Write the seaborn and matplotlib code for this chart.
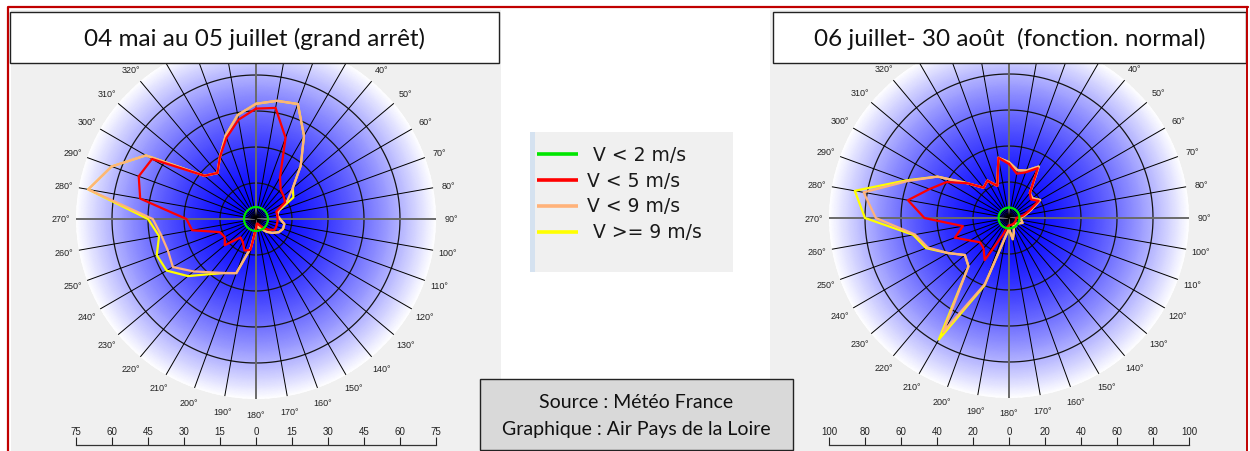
import numpy as np
import matplotlib
matplotlib.use("Agg")
import matplotlib.pyplot as plt
from matplotlib.colors import ListedColormap
from matplotlib.patches import Rectangle
import seaborn as sns

sns.set_style("white")
plt.rcParams["font.family"] = ["DejaVu Sans"]

W, H = 1250, 452

# wind directions (degrees, every 10°)
directions = list(range(0, 360, 10))

# period 1 : cumulative frequencies per speed class
p1_title = "04 mai au 05 juillet (grand arrêt)"
p1_rmax = 75
p1_v2 = [5] * 36
p1_v5 = [46, 47, 36, 20, 16, 15, 14, 9, 9, 9, 9, 9,
         9, 7, 5, 3, 2, 2, 4, 13, 14, 11, 10, 17,
         15, 16, 27, 29, 49, 52, 50, 28, 25, 30, 36, 42]
p1_v9 = [48, 50, 51, 40, 29, 20, 15, 10, 9, 10, 12, 12,
         11, 9, 7, 5, 4, 3, 4, 12, 24, 26, 29, 34,
         40, 39, 40, 43, 71, 64, 53, 28, 25, 30, 37, 44]
p1_vall = [48, 50, 51, 40, 29, 20, 18, 10, 9, 10, 12, 12,
           11, 9, 7, 5, 4, 3, 4, 12, 24, 26, 30, 37,
           43, 44, 41, 45, 71, 64, 53, 28, 25, 30, 37, 44]

# period 2 : cumulative frequencies per speed class
p2_title = "06 juillet- 30 août  (fonction. normal)"
p2_rmax = 100
p2_v2 = [5.8] * 36
p2_v5 = [30, 25, 27, 32, 18, 16, 19, 12, 8, 4, 4, 4,
         4, 4, 4, 4, 4, 4, 4, 5, 10, 27, 22, 21,
         25, 32, 26, 47, 57, 47, 40, 30, 22, 24, 19, 34]
p2_v9 = [31, 27, 28, 33, 18, 17, 20, 13, 9, 6, 7, 8,
         6, 5, 6, 5, 8, 12, 6, 10, 39, 73, 35, 32,
         39, 48, 53, 74, 82, 60, 46, 30, 22, 24, 19, 34]
p2_vall = [31, 27, 28, 33, 18, 17, 20, 13, 9, 6, 7, 8,
           6, 5, 6, 5, 8, 12, 6, 10, 40, 78, 35, 32,
           39, 49, 54, 80, 87, 61, 46, 30, 22, 24, 19, 34]

class_labels = [" V < 2 m/s", "V < 5 m/s", "V < 9 m/s", " V >= 9 m/s"]
class_colors = ["#00e600", "#ff0000", "#ffb27a", "#ffff00"]

source_lines = ["Source : Météo France", "Graphique : Air Pays de la Loire"]

# direction labels hidden behind the title boxes are not drawn
hidden_labels = {330, 340, 350, 0, 10, 20, 30}


def px_rect(x0, y0, x1, y1):
    return [x0 / W, 1 - y1 / H, (x1 - x0) / W, (y1 - y0) / H]


fig = plt.figure(figsize=(W / 100, H / 100), dpi=100)
fig.patch.set_facecolor("white")

# background layer in pixel coordinates
bg = fig.add_axes([0, 0, 1, 1], zorder=-5)
bg.set_xlim(0, W)
bg.set_ylim(H, 0)
bg.axis("off")
bg.add_patch(Rectangle((11, 11), 490, H, facecolor="#f0f0f0", edgecolor="none"))
bg.add_patch(Rectangle((770, 11), 477, H, facecolor="#f0f0f0", edgecolor="none"))

# radial blue -> white shading, staying saturated towards the centre
_t = np.linspace(0, 1, 256) ** 1.6
blue_white = ListedColormap(np.column_stack([_t, _t, np.ones_like(_t)]))


def wind_rose(cx, cy, rmax, series):
    R = 180
    ax = fig.add_axes(px_rect(cx - R, cy - R, cx + R, cy + R), projection="polar", zorder=1)
    ax.set_theta_zero_location("N")
    ax.set_theta_direction(-1)
    ax.patch.set_alpha(0)
    ax.spines["polar"].set_visible(False)
    ax.grid(False)

    th = np.linspace(0, 2 * np.pi, 181)
    rr = np.linspace(0, rmax, 80)
    T, RR = np.meshgrid(th, rr)
    ax.pcolormesh(T, RR, RR, cmap=blue_white, shading="gouraud", vmin=0, vmax=rmax, zorder=0)

    # rings
    step = rmax / 5
    for k in range(1, 5):
        ax.plot(th, np.full_like(th, k * step), color="#141414", lw=0.9, zorder=1)
    # spokes
    for d in range(0, 360, 10):
        t = np.deg2rad(d)
        main = d % 90 == 0
        ax.plot([t, t], [0, rmax], color="#6a6a6a" if main else "#000000",
                lw=1.4 if main else 0.7, zorder=1)
        if d not in hidden_labels:
            ax.text(t, rmax * 195 / 180, f"{d}°", ha="center", va="center",
                    fontsize=6.5, family="Liberation Sans", color="#222222", clip_on=False)

    theta = np.deg2rad(directions + [directions[0]])
    for vals, col in zip(series[::-1], class_colors[::-1]):
        r = np.array(vals + [vals[0]], dtype=float)
        sns.lineplot(x=theta, y=r, ax=ax, sort=False, estimator=None,
                     color=col, lw=1.6, legend=False, zorder=3)
    ax.set_xlabel("")
    ax.set_ylabel("")
    ax.set_xticks([])
    ax.set_yticks([])
    ax.set_ylim(0, rmax)

    # linear scale below the rose
    sax = fig.add_axes(px_rect(cx - R, 446, cx + R, 452), zorder=1)
    sax.patch.set_alpha(0)
    for s in ("left", "right", "bottom"):
        sax.spines[s].set_visible(False)
    sax.spines["top"].set_color("#333333")
    sax.spines["top"].set_linewidth(0.9)
    sax.set_xlim(-rmax, rmax)
    ticks = np.linspace(-rmax, rmax, 11)
    sax.set_xticks(ticks)
    sax.set_xticklabels([f"{abs(int(round(t)))}" for t in ticks], family="Liberation Sans")
    sax.set_yticks([])
    sax.xaxis.tick_top()
    sax.tick_params(axis="x", direction="out", length=5.5, width=0.8, pad=1,
                    labelsize=7, colors="#222222")


wind_rose(256, 220, p1_rmax, [p1_v2, p1_v5, p1_v9, p1_vall])
wind_rose(1009, 219, p2_rmax, [p2_v2, p2_v5, p2_v9, p2_vall])

# legend box
lax = fig.add_axes(px_rect(530, 133, 733, 273), zorder=2)
lax.set_xlim(530, 733)
lax.set_ylim(273, 133)
lax.axis("off")
lax.add_patch(Rectangle((530, 133), 203, 140, facecolor="#f0f0f0", edgecolor="none"))
lax.add_patch(Rectangle((530, 133), 5, 140, facecolor="#d5e2f0", edgecolor="none"))
for y, lab, col in zip([155, 181, 207, 233], class_labels, class_colors):
    lax.plot([537, 578], [y, y], color=col, lw=2.6, solid_capstyle="butt")
    lax.text(587, y, lab, ha="left", va="center", fontsize=13.5, color="#1a1a1a")

# overlay: frame, titles, source
top = fig.add_axes([0, 0, 1, 1], zorder=10)
top.set_xlim(0, W)
top.set_ylim(H, 0)
top.axis("off")
top.plot([8, 8, 1248], [H, 8, 8], color="#c00000", lw=1.6)
top.plot([1247, 1247], [8, H], color="#c00000", lw=1.4)
for (x0, x1), title in zip([(10, 499), (773, 1246)], [p1_title, p2_title]):
    top.add_patch(Rectangle((x0, 13), x1 - x0, 51, facecolor="white", edgecolor="#222222", lw=1))
    top.text((x0 + x1) / 2, 39, title, ha="center", va="center", fontsize=17.5,
             family="Lato", color="#111111")
top.add_patch(Rectangle((480, 380), 313, 71, facecolor="#d9d9d9", edgecolor="#222222", lw=1))
top.text(636.5, 403, source_lines[0], ha="center", va="center", fontsize=14,
         family="Lato", color="#111111")
top.text(636.5, 430, source_lines[1], ha="center", va="center", fontsize=14,
         family="Lato", color="#111111")

fig.savefig("out.png", dpi=100)
